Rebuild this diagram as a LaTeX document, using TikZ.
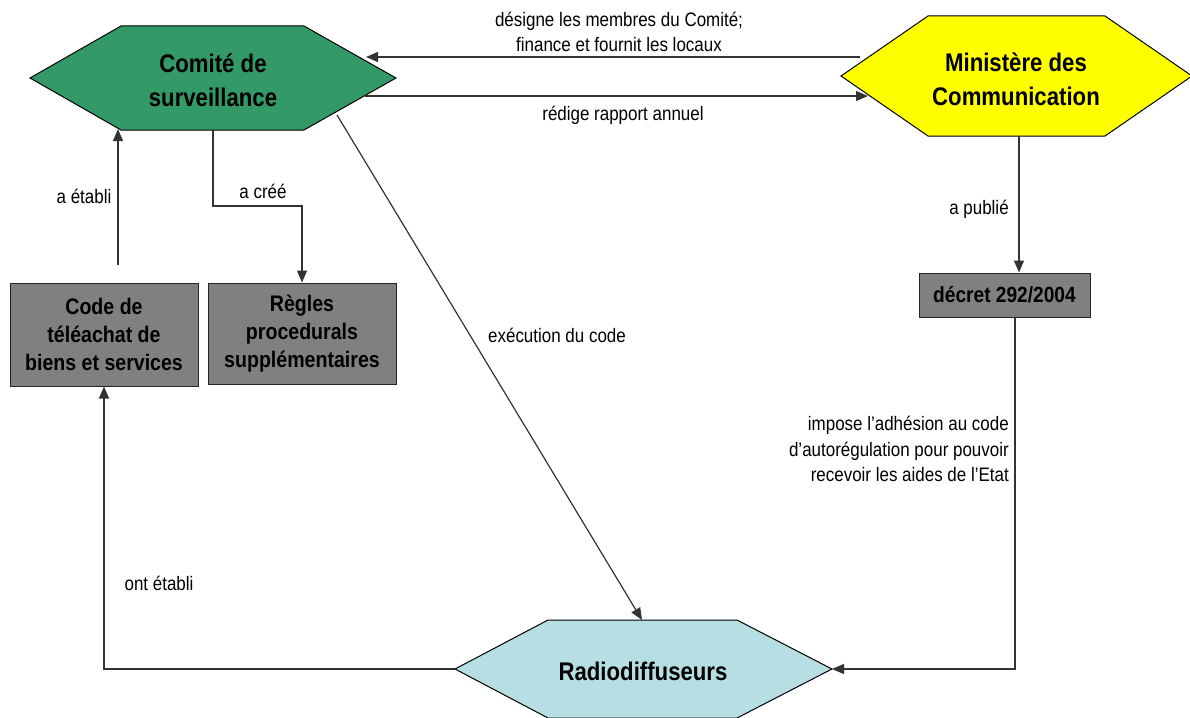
\documentclass[tikz,border=0pt]{standalone}
\usepackage{fontspec}
\setmainfont{Liberation Sans}[FakeStretch=0.87]
\usetikzlibrary{arrows.meta}
\definecolor{comitegreen}{RGB}{51,153,102}
\definecolor{ministyellow}{RGB}{255,255,0}
\definecolor{radioblue}{RGB}{183,222,226}
\definecolor{boxgray}{RGB}{128,128,128}
\begin{document}
\begin{tikzpicture}[x=1pt,y=-1pt,
  hexa/.style={draw=black,line width=1pt},
  title/.style={font=\fontsize{25.5}{34}\selectfont\bfseries,align=center,inner sep=0pt},
  boxnode/.style={draw=black!85,fill=boxgray,line width=1pt,
    font=\fontsize{22.5}{28}\selectfont\bfseries,align=center,inner sep=0pt},
  lbl/.style={font=\fontsize{19.5}{25.5}\selectfont,align=center,inner sep=0pt},
  link/.style={line width=1.2pt,draw=black!80},
  arr/.style={link,-{Triangle[length=12pt,width=10pt]}}]
\useasboundingbox (0,0) rectangle (1190,717);

% hexagonal actors
\fill[comitegreen] (30,78) -- (121,26) -- (304,26) -- (396,78) -- (304,130) -- (121,130) -- cycle;
\draw[hexa] (30,78) -- (121,26) -- (304,26) -- (396,78) -- (304,130) -- (121,130) -- cycle;
\node[title] (comite) at (213,80) {Comité de\\surveillance};

\fill[ministyellow] (841,76) -- (928,16) -- (1105,16) -- (1192,76) -- (1105,136) -- (928,136) -- cycle;
\draw[hexa] (841,76) -- (928,16) -- (1105,16) -- (1192,76) -- (1105,136) -- (928,136) -- cycle;
\node[title] (ministere) at (1016,79) {Ministère des\\Communication};

\fill[radioblue] (455,669) -- (548,620) -- (737,620) -- (832,669) -- (737,718) -- (548,718) -- cycle;
\draw[hexa] (455,669) -- (548,620) -- (737,620) -- (832,669) -- (737,718) -- (548,718) -- cycle;
\node[title] (radio) at (643,671) {Radiodiffuseurs};

% documents
\node[boxnode,minimum width=188pt,minimum height=103pt] (code) at (104,334.5)
  {Code de\\téléachat de\\biens et services};
\node[boxnode,minimum width=188pt,minimum height=101pt] (regles) at (302,333.5)
  {Règles\\procedurals\\supplémentaires};
\node[boxnode,font=\fontsize{22}{28}\selectfont\bfseries,
  minimum width=171pt,minimum height=44pt] (decret) at (1004.5,295)
  {décret 292/2004};

% connector end points on the hexagon outlines
\coordinate (minL1) at (860,57);
\coordinate (comR1) at (366,57);
\coordinate (comR2) at (365,96);
\coordinate (minL2) at (868,96);
\coordinate (comB) at (213,130);
\coordinate (comBL) at (118,129);
\coordinate (codeUp) at (118,265);
\coordinate (comDiag) at (337,115);
\coordinate (radioT) at (642,620);
\coordinate (minB) at (1019,136);
\coordinate (radioR) at (832,669);
\coordinate (radioL) at (455,669);

% connectors
\draw[arr] (minL1) -- (comR1);
\draw[arr] (comR2) -- (minL2);
\draw[arr] (comB) -- (213,206) -| (regles.north);
\draw[arr] (codeUp) -- (comBL);
\draw[arr] (comDiag) -- (radioT);
\draw[arr] (minB) -- (minB |- decret.north);
\draw[arr] (decret.south -| 1015,0) |- (radioR);
\draw[arr] (radioL) -| (code.south);

% connector labels
\node[lbl] at (619,32) {désigne les membres du Comité;\\finance et fournit les locaux};
\node[lbl] at (623,115) {rédige rapport annuel};
\node[lbl] at (84,196) {a établi};
\node[lbl] at (263,191) {a créé};
\node[lbl] at (557,335) {exécution du code};
\node[lbl] at (979,209) {a publié};
\node[lbl,align=right,anchor=east] at (1009,449) {impose l’adhésion au code\\d’autorégulation pour pouvoir\\recevoir les aides de l’Etat};
\node[lbl] at (159,583) {ont établi};
\end{tikzpicture}
\end{document}
